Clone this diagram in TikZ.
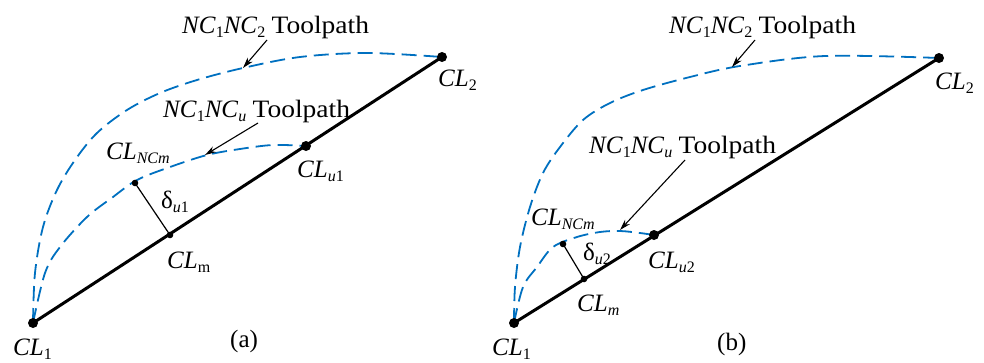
\documentclass[tikz,border=0pt]{standalone}
\usepackage{fontspec}
\setmainfont{Liberation Serif}
\newfontfamily\widefont[FakeStretch=1.1]{Liberation Serif}
\usetikzlibrary{arrows.meta}
\definecolor{pathblue}{RGB}{0,112,192}
\newcommand\sbs[1]{\raisebox{-4pt}{\fontsize{16}{16}\selectfont #1}}
\newcommand\tpath{{\widefont Toolpath}}
\begin{document}
\begin{tikzpicture}[x=1pt,y=-1pt,
  lbl/.style={font=\fontsize{25}{25}\selectfont, inner sep=0pt, anchor=base west},
  thickline/.style={line width=3pt},
  toolpath/.style={draw=pathblue, line width=1.8pt, dash pattern=on 15pt off 7pt},
  arr/.style={-{Stealth[length=11pt,width=6.5pt]}, line width=1.1pt},
  thin line/.style={line width=1.2pt}]
\useasboundingbox (0,0) rectangle (984,362);
% ---------- panel (a) ----------
\coordinate (a1) at (33,323);
\coordinate (a2) at (442,57);
\coordinate (au) at (306,146);
\coordinate (am) at (170,235);
\coordinate (anc) at (135,183);
\coordinate (aA1) at (267,40);
\coordinate (aT1) at (243,68);
\coordinate (aA2) at (258,123);
\coordinate (aT2) at (205,155);
\draw[toolpath] plot[smooth, tension=0.55] coordinates {(a1) (35,273) (43,227) (57,190) (75,160) (97,133) (127,110) (160,93) (197,80) (243,68) (300,57) (367,53) (a2)};
\draw[toolpath] plot[smooth, tension=0.55] coordinates {(a1) (45,273) (60,247) (87,217) (113,197) (137,180) (170,167) (207,155) (240,149) (273,145) (au)};
\draw[thickline] (a1) -- (a2);
\draw[thin line] (anc) -- (am);
\fill (a1) circle (5);
\fill (a2) circle (5);
\fill (au) circle (5);
\fill (am) circle (3.3);
\fill (anc) circle (3.3);
\draw[arr] (aA1) -- (aT1);
\draw[arr] (aA2) -- (aT2);
\node[lbl] (la1) at (182,33) {\textit{NC}\sbs{1}\textit{NC}\sbs{2} \tpath};
\node[lbl] (la2) at (163,117) {\textit{NC}\sbs{1}\textit{NC}\sbs{\itshape u} \tpath};
\node[lbl] (lanc) at (106,159) {\textit{CL}\sbs{\itshape NCm}};
\node[lbl] (lacl2) at (438,86) {\textit{CL}\sbs{2}};
\node[lbl] (lau) at (297,177) {\textit{CL}\sbs{\itshape u\upshape 1}};
\node[lbl] (lad) at (161,208) {δ\sbs{\itshape u\upshape 1}};
\node[lbl] (lam) at (167,268) {\textit{CL}\sbs{m}};
\node[lbl] (lacl1) at (13,355) {\textit{CL}\sbs{1}};
\node[lbl] (lcapa) at (230,347) {(a)};
% ---------- panel (b) ----------
\coordinate (b1) at (514,323);
\coordinate (b2) at (939,58);
\coordinate (bu) at (654,235);
\coordinate (bm) at (584,279);
\coordinate (bnc) at (563,244);
\coordinate (bA1) at (755,40);
\coordinate (bT1) at (732,67);
\coordinate (bA2) at (685,160);
\coordinate (bT2) at (620,230);
\draw[toolpath] plot[smooth, tension=0.55] coordinates {(b1) (515,287) (520,247) (530,207) (543,173) (560,147) (583,120) (610,103) (643,90) (690,77) (740,66) (825,56) (b2)};
\draw[toolpath] plot[smooth, tension=0.55] coordinates {(b1) (523,287) (537,267) (553,247) (577,237) (600,232) (620,231) (640,233) (bu)};
\draw[thickline] (b1) -- (b2);
\draw[thin line] (bnc) -- (bm);
\fill (b1) circle (5);
\fill (b2) circle (5);
\fill (bu) circle (5);
\fill (bm) circle (3.3);
\fill (bnc) circle (3.3);
\draw[arr] (bA1) -- (bT1);
\draw[arr] (bA2) -- (bT2);
\node[lbl] (lb1) at (669,33) {\textit{NC}\sbs{1}\textit{NC}\sbs{2} \tpath};
\node[lbl] (lb2) at (589,153) {\textit{NC}\sbs{1}\textit{NC}\sbs{\itshape u} \tpath};
\node[lbl] (lbnc) at (531,225) {\textit{CL}\sbs{\itshape NCm}};
\node[lbl] (lbd) at (583,260) {δ\sbs{\itshape u\upshape 2}};
\node[lbl] (lbu) at (648,268) {\textit{CL}\sbs{\itshape u\upshape 2}};
\node[lbl] (lbm) at (577,311) {\textit{CL}\sbs{\itshape m}};
\node[lbl] (lbcl1) at (492,355) {\textit{CL}\sbs{1}};
\node[lbl] (lbcl2) at (935,89) {\textit{CL}\sbs{2}};
\node[lbl] (lcapb) at (717,350) {(b)};
\end{tikzpicture}
\end{document}
